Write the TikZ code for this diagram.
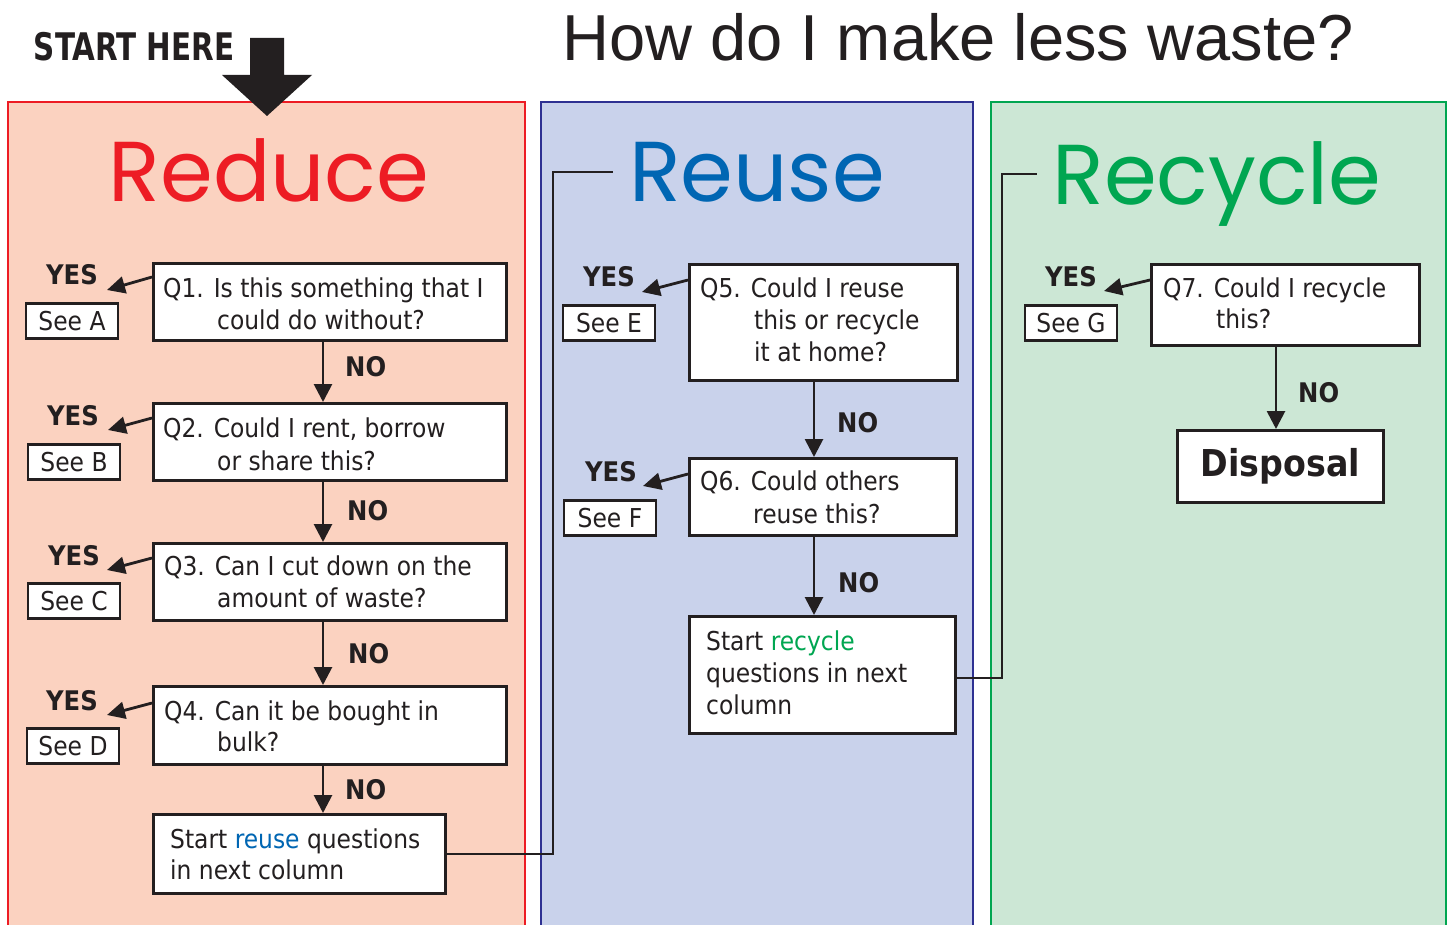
\documentclass[tikz,border=0pt]{standalone}
\usepackage{fontspec}
\usepackage{graphicx}
\usetikzlibrary{arrows.meta,calc}
\newfontfamily\bodyfont{DejaVu Sans Condensed}[BoldFont={DejaVu Sans Condensed Bold}]
\newfontfamily\titlefont{Poppins}
\newfontfamily\headfont{Liberation Sans}
\definecolor{txt}{HTML}{231F20}
\definecolor{redfill}{HTML}{FBD2C0}
\definecolor{redline}{HTML}{ED1C24}
\definecolor{bluefill}{HTML}{C9D2EB}
\definecolor{blueline}{HTML}{2E3192}
\definecolor{greenfill}{HTML}{CCE7D5}
\definecolor{greenline}{HTML}{00A651}
\definecolor{reuseblue}{HTML}{0066B3}
\begin{document}
\begin{tikzpicture}[x=1pt,y=-1pt,
  panel/.style={line width=2pt},
  qbox/.style={draw=txt, fill=white, line width=2.8pt, inner sep=0pt, anchor=north west},
  seebox/.style={draw=txt, fill=white, line width=2.5pt, inner sep=0pt, minimum width=92pt, minimum height=35pt, text=txt, font=\bodyfont\fontsize{26}{30}\selectfont},
  bt/.style={anchor=base west, inner sep=0pt, text=txt, font=\bodyfont\fontsize{26}{32}\selectfont},
  lbl/.style={anchor=base, inner sep=0pt, text=txt, font=\bodyfont\bfseries\fontsize{27}{32}\selectfont},
  nolbl/.style={anchor=base west, inner sep=0pt, text=txt, font=\bodyfont\bfseries\fontsize{27}{32}\selectfont},
  ttl/.style={anchor=base, inner sep=0pt, font=\titlefont\fontsize{85}{92}\selectfont},
  yesarrow/.style={draw=txt, line width=2.8pt, -{Triangle[length=18pt,width=17pt]}},
  noarrow/.style={draw=txt, line width=2.8pt, -{Triangle[length=18pt,width=18pt]}},
  conn/.style={draw=txt, line width=2.8pt}
]
\useasboundingbox (0,0) rectangle (1454,925);
\fill[white] (0,0) rectangle (1454,925);

% panels
\filldraw[panel, fill=redfill, draw=redline] (8,102) rectangle (525,940);
\filldraw[panel, fill=bluefill, draw=blueline] (541,102) rectangle (973,940);
\filldraw[panel, fill=greenfill, draw=greenline] (991,102) rectangle (1446,940);

% headings
\node[anchor=base, inner sep=0pt, text=txt, font=\headfont\fontsize{65}{70}\selectfont] (title) at (958,61) {How do I make less waste?};
\node[anchor=base, inner sep=0pt, text=txt, font=\bodyfont\bfseries\fontsize{38}{40}\selectfont] (start) at (134,61) {\scalebox{0.86}[1]{START HERE}};
\fill[txt] (250,38) -- (284,38) -- (284,75) -- (312,75) -- (267,116) -- (222,75) -- (250,75) -- cycle;

\node[ttl, text=redline] (treduce) at (269,202) {Reduce};
\node[ttl, text=reuseblue] (treuse) at (757,202) {Reuse};
\node[ttl, text=greenline] (trecycle) at (1217,205) {Recycle};

% boxes
\node[qbox, minimum width=353pt, minimum height=77pt] (q1) at (152,262) {};
\node[qbox, minimum width=353pt, minimum height=77pt] (q2) at (152,402) {};
\node[qbox, minimum width=353pt, minimum height=77pt] (q3) at (152,542) {};
\node[qbox, minimum width=353pt, minimum height=78pt] (q4) at (152,685) {};
\node[qbox, minimum width=292pt, minimum height=79pt] (r1) at (152,813) {};
\node[qbox, minimum width=268pt, minimum height=116pt] (q5) at (688,263) {};
\node[qbox, minimum width=267pt, minimum height=77pt] (q6) at (688,457) {};
\node[qbox, minimum width=266pt, minimum height=117pt] (r2) at (688,615) {};
\node[qbox, minimum width=268pt, minimum height=81pt] (q7) at (1150,263) {};
\node[qbox, minimum width=206pt, minimum height=72pt, text=txt, font=\bodyfont\bfseries\fontsize{37}{40}\selectfont] (disp) at (1176,429) {Disposal};

% box texts
\node[bt] (q1a) at (163,298) {Q1. Is this something that I};
\node[bt] (q1b) at (217,330) {could do without?};
\node[bt] (q2a) at (163,437) {Q2. Could I rent, borrow};
\node[bt] (q2b) at (217,470) {or share this?};
\node[bt] (q3a) at (164,575) {Q3. Can I cut down on the};
\node[bt] (q3b) at (217,607) {amount of waste?};
\node[bt] (q4a) at (164,720) {Q4. Can it be bought in};
\node[bt] (q4b) at (217,751) {bulk?};
\node[bt] (r1a) at (170,848) {Start \textcolor{reuseblue}{reuse} questions};
\node[bt] (r1b) at (170,879) {in next column};
\node[bt] (q5a) at (700,298) {Q5. Could I reuse};
\node[bt] (q5b) at (754,330) {this or recycle};
\node[bt] (q5c) at (754,362) {it at home?};
\node[bt] (q6a) at (700,490) {Q6. Could others};
\node[bt] (q6b) at (753,523) {reuse this?};
\node[bt] (r2a) at (706,650) {Start \textcolor{greenline}{recycle}};
\node[bt] (r2b) at (706,682) {questions in next};
\node[bt] (r2c) at (706,714) {column};
\node[bt] (q7a) at (1163,298) {Q7. Could I recycle};
\node[bt] (q7b) at (1216,329) {this?};

% see boxes
\node[seebox] (sa) at (72,321) {See A};
\node[seebox] (sb) at (74,462) {See B};
\node[seebox] (sc) at (74,601) {See C};
\node[seebox] (sd) at (73,746) {See D};
\node[seebox] (se) at (609,323) {See E};
\node[seebox] (sf) at (610,518) {See F};
\node[seebox] (sg) at (1071,323) {See G};

% YES labels
\node[lbl] (y1) at (72,285) {YES};
\node[lbl] (y2) at (73,425) {YES};
\node[lbl] (y3) at (74,565) {YES};
\node[lbl] (y4) at (72,710) {YES};
\node[lbl] (y5) at (609,287) {YES};
\node[lbl] (y6) at (611,481) {YES};
\node[lbl] (y7) at (1071,287) {YES};

% YES arrow tips
\coordinate (t1) at (107,290);
\coordinate (t2) at (108,430);
\coordinate (t3) at (107,570);
\coordinate (t4) at (107,715);
\coordinate (t5) at (642,292);
\coordinate (t6) at (643,486);
\coordinate (t7) at (1104,291);
\draw[yesarrow] ($(q1.north west)+(0,15)$) -- (t1);
\draw[yesarrow] ($(q2.north west)+(0,16)$) -- (t2);
\draw[yesarrow] ($(q3.north west)+(0,16)$) -- (t3);
\draw[yesarrow] ($(q4.north west)+(0,18)$) -- (t4);
\draw[yesarrow] ($(q5.north west)+(0,17)$) -- (t5);
\draw[yesarrow] ($(q6.north west)+(0,17)$) -- (t6);
\draw[yesarrow] ($(q7.north west)+(0,17)$) -- (t7);

% NO arrows
\coordinate (cx1) at (323,0);
\coordinate (cx2) at (814,0);
\coordinate (cx3) at (1276,0);
\draw[noarrow] (q1.south -| cx1) -- (q2.north -| cx1);
\draw[noarrow] (q2.south -| cx1) -- (q3.north -| cx1);
\draw[noarrow] (q3.south -| cx1) -- (q4.north -| cx1);
\draw[noarrow] (q4.south -| cx1) -- (r1.north -| cx1);
\draw[noarrow] (q5.south -| cx2) -- (q6.north -| cx2);
\draw[noarrow] (q6.south -| cx2) -- (r2.north -| cx2);
\draw[noarrow] (q7.south -| cx3) -- (disp.north -| cx3);

\node[nolbl] (n1) at (345,377) {NO};
\node[nolbl] (n2) at (347,520) {NO};
\node[nolbl] (n3) at (348,663) {NO};
\node[nolbl] (n4) at (345,799) {NO};
\node[nolbl] (n5) at (837,432) {NO};
\node[nolbl] (n6) at (838,592) {NO};
\node[nolbl] (n7) at (1298,402) {NO};

% column connectors
\coordinate (j1) at (553,172);
\coordinate (e1) at (613,172);
\coordinate (j2) at (1002,174);
\coordinate (e2) at (1037,174);
\draw[conn] (r1.east) -| (j1) -- (e1);
\draw[conn] ($(r2.east)+(0,3)$) -| (j2) -- (e2);
\end{tikzpicture}
\end{document}
